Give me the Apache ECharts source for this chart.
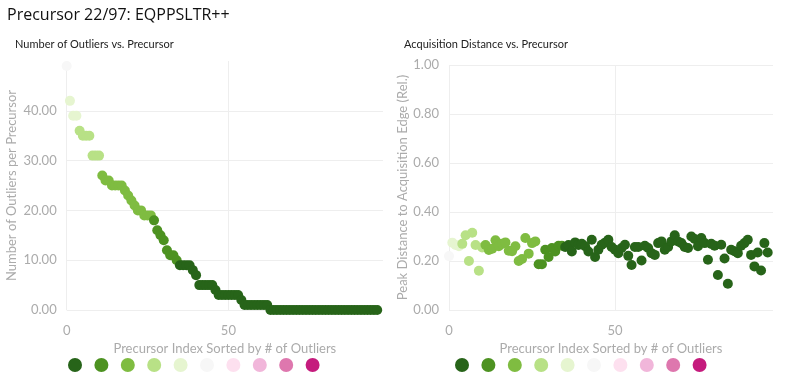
<!DOCTYPE html>
<html><head><meta charset="utf-8">
<script src="https://cdn.jsdelivr.net/npm/echarts@6/dist/echarts.min.js"></script>
<style>html,body{margin:0;padding:0;background:#fff}#c{width:787px;height:381px}</style>
</head><body><div id="c"></div>
<script>
// Number of outliers per precursor (sorted), index 0..96
var outlierCounts = [49,42,39,39,36,35,35,35,31,31,31,27,26,26,25,25,25,25,24,23,22,21,20,20,19,19,19,18,16,15,14,12,11,11,10,9,9,9,9,8,7,5,5,5,5,5,4,3,3,3,3,3,3,3,2,1,1,1,1,1,1,1,1,0,0,0,0,0,0,0,0,0,0,0,0,0,0,0,0,0,0,0,0,0,0,0,0,0,0,0,0,0,0,0,0,0,0];
// Peak distance to acquisition edge (relative), same order
var peakDistances = [0.22,0.275,0.265,0.26,0.27,0.305,0.20,0.315,0.265,0.16,0.255,0.265,0.245,0.25,0.285,0.26,0.27,0.276,0.242,0.24,0.26,0.20,0.208,0.294,0.23,0.273,0.28,0.187,0.187,0.246,0.216,0.253,0.239,0.262,0.262,0.257,0.265,0.239,0.276,0.265,0.27,0.26,0.239,0.287,0.216,0.246,0.266,0.275,0.287,0.257,0.246,0.232,0.253,0.266,0.221,0.184,0.257,0.257,0.202,0.262,0.253,0.232,0.225,0.273,0.28,0.246,0.257,0.28,0.305,0.28,0.273,0.257,0.253,0.30,0.29,0.26,0.294,0.273,0.205,0.27,0.262,0.143,0.266,0.21,0.107,0.246,0.24,0.232,0.262,0.273,0.287,0.225,0.178,0.235,0.161,0.273,0.235];
var legendColors = ['#276419','#4d9221','#7fbc41','#b8e186','#e6f5d0','#f7f7f7','#fde0ef','#f1b6da','#de77ae','#c51b7d'];
var legendNames = ['c1','c2','c3','c4','c5','c6','c7','c8','c9','c10'];
var colorPieces = [
  {gte:46, color:'#f7f7f7'},
  {gte:37, lt:46, color:'#e6f5d0'},
  {gte:28, lt:37, color:'#b8e186'},
  {gte:19, lt:28, color:'#7fbc41'},
  {gte:10, lt:19, color:'#4d9221'},
  {lt:10, color:'#276419'}
];
var titleText = 'Precursor 22/97: EQPPSLTR++';
var leftTitle = 'Number of Outliers vs. Precursor';
var rightTitle = 'Acquisition Distance vs. Precursor';
var xName = 'Precursor Index Sorted by # of Outliers';
var leftYName = 'Number of Outliers per Precursor';
var rightYName = 'Peak Distance to Acquisition Edge (Rel.)';

var FONT = 'Lato';
var GREY = '#ababab';
var chart = echarts.init(document.getElementById('c'), null, {renderer:'canvas'});

function xAxisCfg(gi, max){
  return {gridIndex:gi, type:'value', min:0, max:max, interval:50,
    name:xName, nameLocation:'middle', nameGap:30,
    nameTextStyle:{color:GREY, fontFamily:FONT, fontSize:13},
    axisLine:{show:false}, axisTick:{show:false},
    axisLabel:{color:GREY, fontFamily:FONT, fontSize:13, margin:14, showMaxLabel:false},
    splitLine:{show:true, showMaxLine:false, lineStyle:{color:'#eeeeee', width:1}}};
}

var leftData = outlierCounts.map(function(v,i){return [i,v];});
var rightData = peakDistances.map(function(v,i){return [i,v,outlierCounts[i]];});

var series = [
  {type:'scatter', xAxisIndex:0, yAxisIndex:0, data:leftData, symbolSize:10, clip:false, silent:true, itemStyle:{opacity:1}},
  {type:'scatter', xAxisIndex:1, yAxisIndex:1, data:rightData, symbolSize:10, clip:false, silent:true, itemStyle:{opacity:1}}
];
legendNames.forEach(function(n,k){
  series.push({type:'scatter', name:n, xAxisIndex:0, yAxisIndex:0, data:[], itemStyle:{color:legendColors[k], opacity:1}});
});

function legendCfg(left){
  return {left:left, top:358, padding:0, orient:'horizontal', icon:'circle', itemWidth:14, itemHeight:14,
    itemGap:12.4, data:legendNames, formatter:function(){return '';}, selectedMode:false,
    itemStyle:{opacity:1}, textStyle:{fontSize:1, padding:[0,0,0,0]}};
}

chart.setOption({
  animation:false,
  title:[
    {text:titleText, left:2, top:2, textStyle:{fontFamily:'Open Sans', fontSize:16, fontWeight:'normal', color:'#111'}},
    {text:leftTitle, left:10, top:34, textStyle:{fontFamily:FONT, fontSize:11, fontWeight:'normal', color:'#222'}},
    {text:rightTitle, left:399, top:34, textStyle:{fontFamily:FONT, fontSize:11, fontWeight:'normal', color:'#222'}}
  ],
  grid:[
    {left:66.7, top:61, width:316.3, height:249},
    {left:449, top:65, width:324, height:245}
  ],
  xAxis:[xAxisCfg(0, 97.8), xAxisCfg(1, 97.6)],
  yAxis:[
    {gridIndex:0, type:'value', min:0, max:50, interval:10,
      name:leftYName, nameLocation:'middle', nameGap:48,
      nameTextStyle:{color:GREY, fontFamily:FONT, fontSize:13},
      axisLine:{show:false}, axisTick:{show:false},
      axisLabel:{color:GREY, fontFamily:FONT, fontSize:13, margin:10, showMaxLabel:false, formatter:function(v){return v.toFixed(2);}},
      splitLine:{show:true, showMaxLine:false, lineStyle:{color:'#eeeeee', width:1}}},
    {gridIndex:1, type:'value', min:0, max:1, interval:0.2,
      name:rightYName, nameLocation:'middle', nameGap:40,
      nameTextStyle:{color:GREY, fontFamily:FONT, fontSize:13},
      axisLine:{show:false}, axisTick:{show:false},
      axisLabel:{color:GREY, fontFamily:FONT, fontSize:13, margin:10, formatter:function(v){return v.toFixed(2);}},
      splitLine:{show:true, lineStyle:{color:'#eeeeee', width:1}}}
  ],
  visualMap:[
    {type:'piecewise', show:false, seriesIndex:0, dimension:1, pieces:colorPieces},
    {type:'piecewise', show:false, seriesIndex:1, dimension:2, pieces:colorPieces}
  ],
  legend:[legendCfg(68), legendCfg(455)],
  series:series
});
</script></body></html>
